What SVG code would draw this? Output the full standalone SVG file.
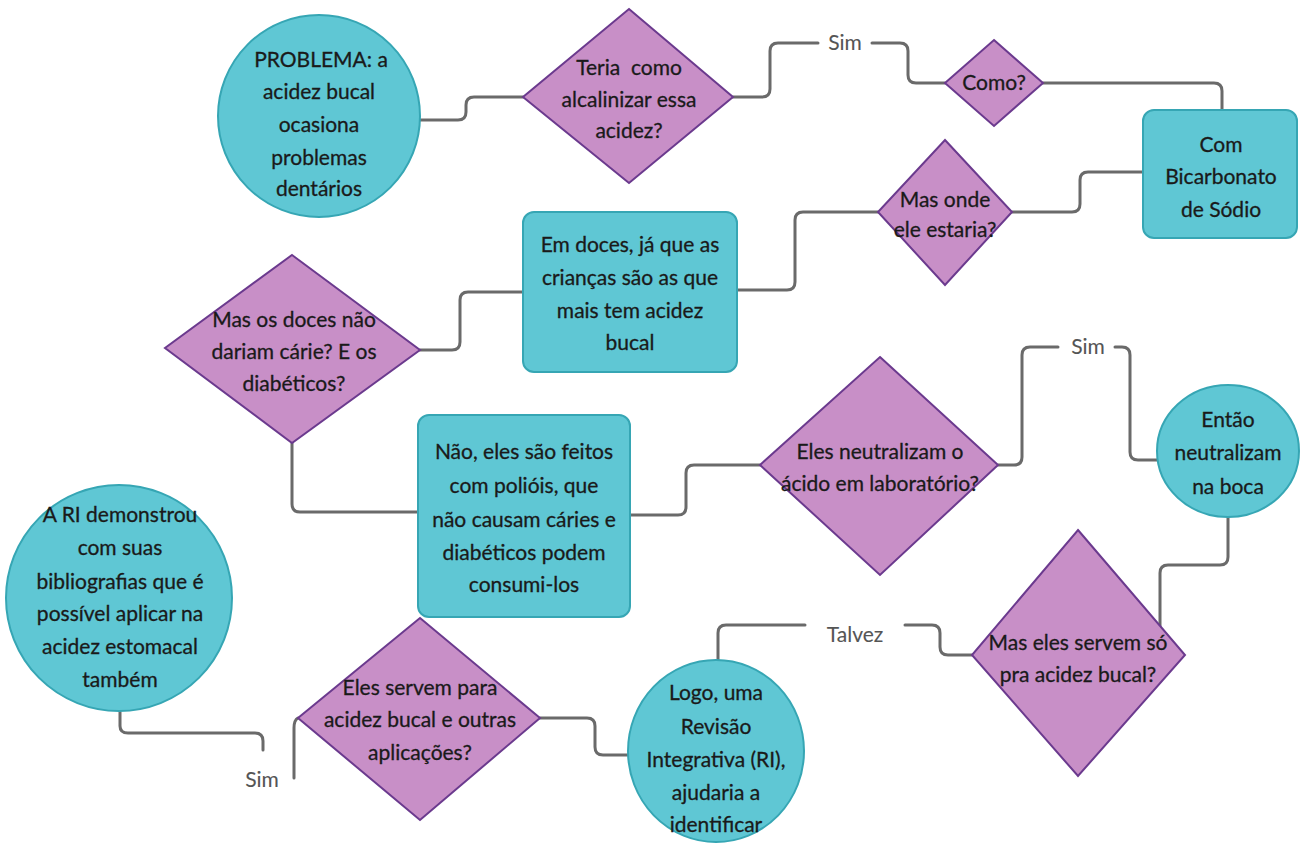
<svg xmlns="http://www.w3.org/2000/svg" width="1301" height="849" viewBox="0 0 1301 849">
<style>
.t{fill:#5fc7d4;stroke:#36a6b4;stroke-width:2}
.p{fill:#c88fc7;stroke:#6b3a8e;stroke-width:2}
.c{fill:none;stroke:#6a6a6a;stroke-width:3;stroke-linecap:round}
text{font-family:Lato,"Open Sans","Liberation Sans",sans-serif;font-size:21px;fill:#1a1a1a;stroke:#1a1a1a;stroke-width:0.3;text-anchor:middle;white-space:pre}
text.l{fill:#555;stroke:#555;stroke-width:0.1}
</style>
<rect width="1301" height="849" fill="#fff"/>
<g id="connectors">
<path class="c" d="M420,120 H458 Q466,120 466,112 V105 Q466,97 474,97 H523"/>
<path class="c" d="M733,97 H762 Q770,97 770,89 V51 Q770,43 778,43 H818"/>
<path class="c" d="M872,43 H900 Q908,43 908,51 V75 Q908,83 916,83 H945"/>
<path class="c" d="M1043,83 H1214 Q1222,83 1222,91 V110"/>
<path class="c" d="M1143,172 H1088 Q1080,172 1080,180 V204 Q1080,212 1072,212 H1012"/>
<path class="c" d="M878,212 H803 Q795,212 795,220 V282 Q795,290 787,290 H737"/>
<path class="c" d="M523,292 H468 Q460,292 460,300 V342 Q460,350 452,350 H420"/>
<path class="c" d="M292,443 V504 Q292,512 300,512 H418"/>
<path class="c" d="M630,515 H678 Q686,515 686,507 V473 Q686,465 694,465 H760"/>
<path class="c" d="M998,465 H1014 Q1022,465 1022,457 V355 Q1022,347 1030,347 H1058"/>
<path class="c" d="M1115,347 H1122 Q1130,347 1130,355 V452 Q1130,460 1138,460 H1158"/>
<path class="c" d="M1228,517 V557 Q1228,565 1220,565 H1168 Q1160,565 1160,573 V626"/>
<path class="c" d="M972,655 H948 Q940,655 940,647 V633 Q940,625 932,625 H905"/>
<path class="c" d="M805,625 H726 Q718,625 718,633 V662"/>
<path class="c" d="M628,755 H603 Q595,755 595,747 V726 Q595,718 587,718 H540"/>
<path class="c" d="M298,718 Q294,720 294,728 V778"/>
<path class="c" d="M120,712 V726 Q120,733 128,733 H255 Q263,733 263,741 V750"/>
<text class="l" x="845" y="50">Sim</text>
<text class="l" x="1088" y="354">Sim</text>
<text class="l" x="855" y="642">Talvez</text>
<text class="l" x="262" y="787">Sim</text>
</g>
<g id="n1">
<circle class="t" cx="319" cy="116" r="101"/>
<text x="321" y="67">PROBLEMA: a</text>
<text x="319" y="99">acidez bucal</text>
<text x="319" y="132">ocasiona</text>
<text x="319" y="165">problemas</text>
<text x="319" y="196">dentários</text>
</g>
<g id="n2">
<polygon class="p" points="629,9 733,97 629,183 523,97"/>
<text x="629" y="75">Teria  como</text>
<text x="629" y="107">alcalinizar essa</text>
<text x="629" y="138">acidez?</text>
</g>
<g id="n3">
<polygon class="p" points="994,40 1043,83 994,126 945,83"/>
<text x="994" y="90">Como?</text>
</g>
<g id="n4">
<rect class="t" x="1143" y="110" width="154" height="128" rx="11"/>
<text x="1221" y="152">Com</text>
<text x="1221" y="184">Bicarbonato</text>
<text x="1221" y="217">de Sódio</text>
</g>
<g id="n5">
<polygon class="p" points="945,140 1012,212 945,285 878,212"/>
<text x="945" y="207">Mas onde</text>
<text x="945" y="237">ele estaria?</text>
</g>
<g id="n6">
<rect class="t" x="523" y="212" width="214" height="160" rx="11"/>
<text x="630" y="252">Em doces, já que as</text>
<text x="630" y="285">crianças são as que</text>
<text x="630" y="318">mais tem acidez</text>
<text x="630" y="350">bucal</text>
</g>
<g id="n7">
<polygon class="p" points="292,255 420,350 292,443 165,348"/>
<text x="294" y="327">Mas os doces não</text>
<text x="294" y="359">dariam cárie? E os</text>
<text x="294" y="391">diabéticos?</text>
</g>
<g id="n8">
<rect class="t" x="418" y="415" width="212" height="202" rx="11"/>
<text x="524" y="459">Não, eles são feitos</text>
<text x="524" y="493">com polióis, que</text>
<text x="524" y="527">não causam cáries e</text>
<text x="524" y="560">diabéticos podem</text>
<text x="524" y="592">consumi-los</text>
</g>
<g id="n9">
<polygon class="p" points="880,357 998,465 880,575 760,465"/>
<text x="880" y="459">Eles neutralizam o</text>
<text x="880" y="491">ácido em laboratório?</text>
</g>
<g id="n10">
<ellipse class="t" cx="1228" cy="451" rx="71" ry="66"/>
<text x="1228" y="427">Então</text>
<text x="1228" y="460">neutralizam</text>
<text x="1228" y="494">na boca</text>
</g>
<g id="n11">
<polygon class="p" points="1078,530 1185,655 1078,776 972,655"/>
<text x="1078" y="650">Mas eles servem só</text>
<text x="1078" y="682">pra acidez bucal?</text>
</g>
<g id="n12">
<ellipse class="t" cx="716" cy="751" rx="88" ry="91"/>
<text x="716" y="700">Logo, uma</text>
<text x="716" y="734">Revisão</text>
<text x="716" y="767">Integrativa (RI),</text>
<text x="716" y="800">ajudaria a</text>
<text x="716" y="832">identificar</text>
</g>
<g id="n13">
<polygon class="p" points="420,618 540,718 420,820 298,718"/>
<text x="420" y="695">Eles servem para</text>
<text x="420" y="727">acidez bucal e outras</text>
<text x="420" y="760">aplicações?</text>
</g>
<g id="n14">
<circle class="t" cx="119" cy="598" r="113"/>
<text x="120" y="522">A RI demonstrou</text>
<text x="120" y="555">com suas</text>
<text x="120" y="589">bibliografias que é</text>
<text x="120" y="621">possível aplicar na</text>
<text x="120" y="654">acidez estomacal</text>
<text x="120" y="687">também</text>
</g>
</svg>
